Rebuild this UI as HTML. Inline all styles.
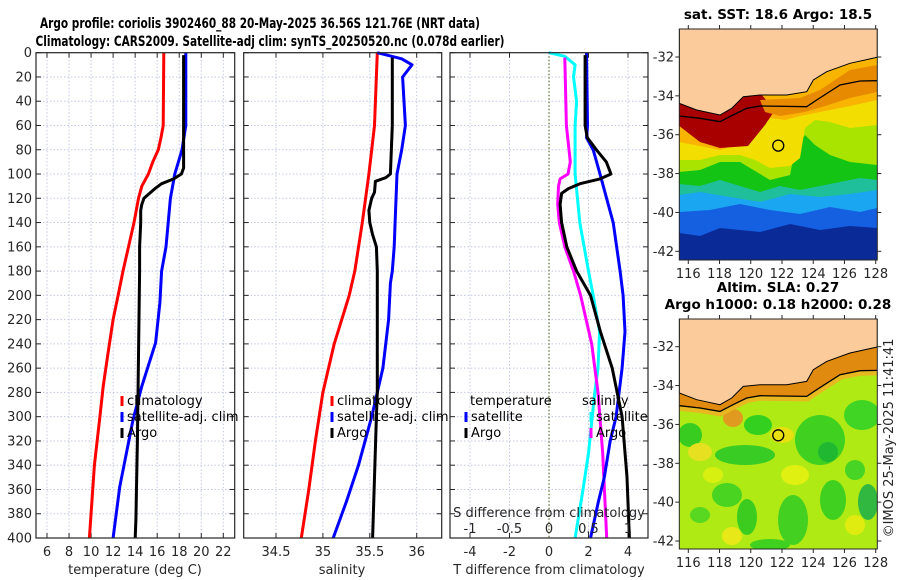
<!DOCTYPE html>
<html><head><meta charset="utf-8">
<style>
html,body{margin:0;padding:0;background:#fff;}
svg{display:block;font-family:"DejaVu Sans","Liberation Sans",sans-serif;}
.tk{font-size:13px;fill:#262626;}
.tt{font-size:13.5px;font-weight:bold;fill:#000;}
.tt2{font-size:14px;font-weight:bold;fill:#000;}
.lg{font-size:13px;fill:#000;}
</style></head>
<body>
<svg id="fig" width="900" height="580" viewBox="0 0 900 580" xmlns="http://www.w3.org/2000/svg">
<text class="tt2" x="260" y="28" text-anchor="middle" textLength="440" lengthAdjust="spacingAndGlyphs">Argo profile: coriolis 3902460_88 20-May-2025 36.56S 121.76E (NRT data)</text>
<text class="tt2" x="270" y="46" text-anchor="middle" textLength="469" lengthAdjust="spacingAndGlyphs">Climatology: CARS2009. Satellite-adj clim: synTS_20250520.nc (0.078d earlier)</text>
<g id="panels"></g>
<g id="maps"></g>
<text class="tk" transform="translate(893,438) rotate(-90)" text-anchor="middle">©IMOS 25-May-2025 11:41:41</text>
</svg>
<script>
// ---------- DATA ----------
const depthTicks = [0,20,40,60,80,100,120,140,160,180,200,220,240,260,280,300,320,340,360,380,400];
const tempTicks = [6,8,10,12,14,16,18,20,22];
const salTicks = [34.5,35,35.5,36];
const salTickLabels = ["34.5","35","35.5","36"];
const tdiffTicks = [-4,-2,0,2,4];
const sdiffTicks = [-1,-0.5,0,0.5,1];
const sdiffTickLabels = ["-1","-0.5","0","0.5","1"];

const climTDepth = [0,60,70,80,90,100,110,120,140,160,180,200,220,250,275,300,340,400];
const climTemp   = [16.6,16.55,16.35,16.1,15.6,15.2,14.6,14.3,13.9,13.4,12.9,12.45,12.0,11.5,11.1,10.8,10.3,9.85];
const satTDepth  = [0,60,80,100,120,140,160,180,206,239,275,303,358,400];
const satTemp    = [18.6,18.6,18.25,17.6,17.2,17.0,16.8,16.4,16.25,15.86,14.6,13.8,12.6,12.0];
const argoTDepth = [2,95,100,104,108,112,116,120,125,130,140,160,180,250,320,385,400];
const argoTemp   = [18.4,18.4,18.2,17.5,16.4,15.8,15.3,14.8,14.6,14.5,14.5,14.4,14.4,14.3,14.2,14.07,14.0];

const climSDepth = [0,60,80,100,140,180,200,240,280,320,360,400];
const climSal    = [35.58,35.55,35.52,35.49,35.42,35.34,35.28,35.12,35.0,34.92,34.85,34.77];
const satSDepth  = [0,5,10,20,60,80,100,140,160,180,190,220,260,300,340,370,400];
const satSal     = [35.58,35.84,35.95,35.85,35.88,35.84,35.79,35.77,35.76,35.74,35.72,35.70,35.64,35.52,35.38,35.25,35.11];
const argoSDepth = [4,60,100,103,106,115,120,130,140,150,160,180,280,300,400];
const argoSal    = [35.74,35.74,35.72,35.67,35.56,35.55,35.52,35.49,35.5,35.53,35.57,35.58,35.58,35.57,35.53];

const satTdDepth = [0,60,70,80,100,110,140,180,200,230,260,300,320,350,370,400];
const satTdiff   = [1.9,1.95,1.9,2.24,2.58,2.75,3.25,3.6,3.75,3.85,3.7,3.4,3.1,2.8,2.5,2.1];
const argoTdDepth= [2,60,70,80,90,100,104,108,112,116,125,140,160,180,200,230,260,300,350,400];
const argoTdiff  = [1.83,1.83,1.94,2.4,2.9,3.14,2.58,1.57,0.98,0.64,0.56,0.64,0.9,1.4,2.1,2.6,3.2,3.7,3.95,4.07];
const satSdDepth = [0,3,10,20,40,60,100,140,180,200,230,260,280,330,360,400];
const satSdiff   = [0,0.2,0.33,0.31,0.35,0.33,0.33,0.39,0.5,0.56,0.64,0.62,0.58,0.5,0.43,0.33];
const argoSdDepth= [4,60,90,100,104,110,125,140,160,180,200,240,280,330,400];
const argoSdiff  = [0.2,0.22,0.27,0.24,0.14,0.12,0.11,0.13,0.2,0.31,0.4,0.54,0.62,0.68,0.73];

const mapLonTicks = [116,118,120,122,124,126,128];
const mapLatTicks = [-32,-34,-36,-38,-40,-42];
const argoLon = 121.76, argoLat = -36.56;

// ---------- HELPERS ----------
const NS = "http://www.w3.org/2000/svg";
function mk(tag, attrs, parent){ const e=document.createElementNS(NS,tag); for(const k in attrs) e.setAttribute(k,attrs[k]); parent.appendChild(e); return e; }
const Y0=52.7, Y1=538; const yD = d => Y0 + d*(Y1-Y0)/400;
const panelsG = document.getElementById('panels');
const mapsG = document.getElementById('maps');

function linScale(v0,p0,v1,p1){ return v => p0 + (v-v0)*(p1-p0)/(v1-v0); }

function drawPanel(name, x0, x1, xs, gridVals, showDepthLabels){
  const g = mk('g',{},panelsG);
  
  
  mk('rect',{x:x0,y:Y0,width:x1-x0,height:Y1-Y0,fill:'#fff'},g);
  depthTicks.forEach(d=>{
    const gl = mk('line',{x1:x0,x2:x1,y1:yD(d),y2:yD(d),stroke:'#c4c8e4','stroke-width':1,'stroke-dasharray':'1.5,2'},g);
    
    
  });
  gridVals.forEach(v=>{
    const gl = mk('line',{x1:xs(v),x2:xs(v),y1:Y0,y2:Y1,stroke:'#c4c8e4','stroke-width':1,'stroke-dasharray':'1.5,2'},g);
    
    
  });
  depthTicks.forEach(d=>{
    mk('line',{x1:x0,x2:x0+5,y1:yD(d),y2:yD(d),stroke:'#262626'},g);
    mk('line',{x1:x1-5,x2:x1,y1:yD(d),y2:yD(d),stroke:'#262626'},g);
    if(showDepthLabels){
      const t = mk('text',{x:x0-4,y:yD(d)+4.5,'text-anchor':'end',class:'tk'},g);
      t.textContent = d;
      
      
    }
  });
  gridVals.forEach(v=>{
    mk('line',{x1:xs(v),x2:xs(v),y1:Y1,y2:Y1-5,stroke:'#262626'},g);
    mk('line',{x1:xs(v),x2:xs(v),y1:Y0,y2:Y0+5,stroke:'#262626'},g);
  });
  return g;
}
function frame(g,x0,x1){ mk('rect',{x:x0,y:Y0,width:x1-x0,height:Y1-Y0,fill:'none',stroke:'#262626','stroke-width':1.2},g); }
function series(g, depths, vals, xs, color, name){
  const pts = depths.map((d,i)=> xs(vals[i]).toFixed(1)+','+yD(d).toFixed(1)).join(' ');
  const p = mk('polyline',{points:pts,fill:'none',stroke:color,'stroke-width':3,'stroke-linejoin':'round'},g);
  
  
}
function label(g,x,y,txt,cls,name,anchor){
  const t = mk('text',{x:x,y:y,class:cls,'text-anchor':anchor||'start'},g);
  t.textContent = txt;
  
  
  return t;
}
function legendEntry(g,x,y,color,txt,name){
  mk('line',{x1:x,x2:x,y1:y-9,y2:y+1,stroke:color,'stroke-width':3},g);
  label(g,x+5,y,txt,'lg',name);
}

// ---------- PANEL 1: temperature ----------
const xT = linScale(6,47,22,223.3);
const g1 = drawPanel('temperature-panel',36,234.7,xT,tempTicks,true);
series(g1,climTDepth,climTemp,xT,'#ff0000','climatology-temperature-line');
series(g1,satTDepth,satTemp,xT,'#0000ff','satellite-temperature-line');
series(g1,argoTDepth,argoTemp,xT,'#000000','argo-temperature-line');
frame(g1,36,234.7);
tempTicks.forEach(v=> label(g1,xT(v),556,String(v),'tk','temperature-tick-label','middle'));
label(g1,135,574,'temperature (deg C)','tk','temperature-axis-title','middle');
legendEntry(g1,122,405,'#ff0000','climatology','legend-climatology');
legendEntry(g1,122,421,'#0000ff','satellite-adj. clim','legend-satellite-adj-clim');
legendEntry(g1,122,437,'#000000','Argo','legend-argo');

// ---------- PANEL 2: salinity ----------
const xS = linScale(34.5,276,36,416.7);
const g2 = drawPanel('salinity-panel',243.7,441.7,xS,salTicks,false);
series(g2,climSDepth,climSal,xS,'#ff0000','climatology-salinity-line');
series(g2,satSDepth,satSal,xS,'#0000ff','satellite-salinity-line');
series(g2,argoSDepth,argoSal,xS,'#000000','argo-salinity-line');
frame(g2,243.7,441.7);
salTicks.forEach((v,i)=> label(g2,xS(v),556,salTickLabels[i],'tk','salinity-tick-label','middle'));
label(g2,342,574,'salinity','tk','salinity-axis-title','middle');
legendEntry(g2,332,405,'#ff0000','climatology','legend-climatology');
legendEntry(g2,332,421,'#0000ff','satellite-adj. clim','legend-satellite-adj-clim');
legendEntry(g2,332,437,'#000000','Argo','legend-argo');

// ---------- PANEL 3: differences ----------
const xTd = linScale(-4,470,4,628);
const xSd = linScale(-1,470,1,628);
const g3 = drawPanel('difference-panel',450,648,xTd,tdiffTicks.filter(v=>v!==0),false);
const zl = mk('line',{x1:xTd(0),x2:xTd(0),y1:Y0,y2:Y1,stroke:'#556b2f','stroke-width':1.2,'stroke-dasharray':'1.5,2'},g3);


series(g3,satSdDepth,satSdiff,xSd,'#00ffff','satellite-salinity-diff-line');
series(g3,argoSdDepth,argoSdiff,xSd,'#ff00ff','argo-salinity-diff-line');
series(g3,satTdDepth,satTdiff,xTd,'#0000ff','satellite-temperature-diff-line');
series(g3,argoTdDepth,argoTdiff,xTd,'#000000','argo-temperature-diff-line');
frame(g3,450,648);
tdiffTicks.forEach(v=> label(g3,xTd(v),556,String(v),'tk','tdiff-tick-label','middle'));
label(g3,549,574,'T difference from climatology','tk','tdiff-axis-title','middle');
sdiffTicks.forEach((v,i)=> label(g3,xSd(v),533,sdiffTickLabels[i],'tk','sdiff-tick-label','middle'));
label(g3,549,517,'S difference from climatology','tk','sdiff-axis-title','middle');
label(g3,470,405,'temperature','lg','legend-temperature-header');
legendEntry(g3,466,421,'#0000ff','satellite','legend-temperature-satellite');
legendEntry(g3,466,437,'#000000','Argo','legend-temperature-argo');
label(g3,582,405,'salinity','lg','legend-salinity-header');
legendEntry(g3,591,421,'#00ffff','satellite','legend-salinity-satellite');
legendEntry(g3,591,437,'#ff00ff','Argo','legend-salinity-argo');

// ---------- MAPS ----------
const MX0=679.3, MX1=877.3;
const lonX = linScale(116,688.3,128,875.7);
const coast = [[679.3,103.3],[696.7,110],[720,115],[731.7,108.3],[743.3,96.7],[760,95],[786.7,95],[806.7,91.7],[813.3,80],[826.7,71.7],[850,63.3],[877.3,57.3]];
const contour = [[679.3,116],[700,118.3],[720,121.7],[733,115],[746.7,108.3],[760,106],[806.7,106.7],[816.7,100],[840,85],[860,81],[877.3,80.7]];
function pstr(arr,dy){ return arr.map(p=>p[0]+','+(p[1]+dy).toFixed(1)).join(' '); }
// edge listed right-to-left
function bandTop(edge,yTop,dy){ return 'M'+MX0+','+(yTop)+' L'+MX1+','+yTop+' '+edge.map(p=>'L'+p[0]+','+(p[1]+dy)).join(' ')+' Z'; }

function drawMap(name, yTop, yBot, dy, title1, title2, fillFn){
  const g = mk('g',{},mapsG);
  
  
  const latY = linScale(-32,57+dy,-42,251.3+dy);
  const clipId = name+'-clip';
  const cp = mk('clipPath',{id:clipId},g);
  mk('rect',{x:MX0,y:yTop,width:MX1-MX0,height:yBot-yTop},cp);
  const inner = mk('g',{'clip-path':'url(#'+clipId+')'},g);
  fillFn(inner, dy);
  const land = mk('polygon',{points:MX0+','+yTop+' '+MX1+','+yTop+' '+pstr(coast.slice().reverse(),dy),fill:'#fccb9c',stroke:'#000','stroke-width':1},inner);
  
  
  const cl = mk('polyline',{points:pstr(contour,dy),fill:'none',stroke:'#000','stroke-width':1.3},inner);
  
  
  const c = mk('circle',{cx:lonX(argoLon),cy:latY(argoLat),r:5.5,fill:'none',stroke:'#000','stroke-width':1.3},g);
  
  
  mk('rect',{x:MX0,y:yTop,width:MX1-MX0,height:yBot-yTop,fill:'none',stroke:'#262626','stroke-width':1},g);
  mapLonTicks.forEach(v=>{
    mk('line',{x1:lonX(v),x2:lonX(v),y1:yTop,y2:yTop-4,stroke:'#262626'},g);
    mk('line',{x1:lonX(v),x2:lonX(v),y1:yBot,y2:yBot+4,stroke:'#262626'},g);
    label(g,lonX(v),yBot+18,String(v),'tk','map-lon-tick-label','middle');
  });
  mapLatTicks.forEach(v=>{
    mk('line',{x1:MX0,x2:MX0-4,y1:latY(v),y2:latY(v),stroke:'#262626'},g);
    mk('line',{x1:MX1,x2:MX1+4,y1:latY(v),y2:latY(v),stroke:'#262626'},g);
    label(g,674,latY(v)+4.5,String(v),'tk','map-lat-tick-label','end');
  });
  if(title2){
    label(g,778,yTop-27,title1,'tt','map-title','middle');
    label(g,778,yTop-10,title2,'tt','map-subtitle','middle');
  } else {
    label(g,778,yTop-10,title1,'tt','map-title','middle');
  }
}

function sstFill(g,dy){
  mk('rect',{x:MX0,y:29,width:200,height:232,fill:'#0a2a98'},g);
  const bands = [
    ['#1560e0',[[877.3,228],[850,226],[820,230],[790,224],[760,232],[720,228],[700,236],[679.3,233]]],
    ['#1aa6f0',[[877.3,208],[860,212],[830,207],[800,214],[770,210],[740,204],[710,210],[679.3,212]]],
    ['#1fbf9c',[[877.3,190],[850,194],[820,197],[790,194],[760,202],[730,197],[700,192],[679.3,195]]],
    ['#14c414',[[877.3,180],[860,178],[840,182],[820,186],[800,190],[780,186],[760,192],[740,186],[720,180],[700,186],[679.3,184]]],
    ['#a8e400',[[877.3,165],[850,162],[830,155],[815,145],[805,135],[795,150],[790,175],[770,180],[750,168],[740,162],[720,162],[700,170],[679.3,172]]],
    ['#f2de00',[[877.3,125],[850,128],[830,122],[815,120],[805,128],[800,158],[790,166],[770,168],[755,160],[740,155],[720,155],[700,160],[679.3,160]]],
    ['#f8b400',[[877.3,100],[850,106],[820,112],[800,116],[785,120],[770,118],[760,126],[745,142],[720,150],[700,146],[679.3,142]]]
  ];
  bands.forEach(b=>{ mk('path',{d:bandTop(b[1],29,0),fill:b[0]},g); });
  mk('polygon',{points:'679.3,100 760,93 775,110 765,125 748,146 720,148 700,142 679.3,126',fill:'#a80000'},g);
  mk('polygon',{points:'760,100 800,98 820,90 850,70 877.3,65 877.3,92 850,98 825,106 805,112 780,116 765,112',fill:'#e88a00'},g);
  mk('polygon',{points:'679.3,40 684,42 685,60 683,88 679.3,90',fill:'#a80000'},g);
}
function slaFill(g,dy){
  mk('rect',{x:MX0,y:319,width:200,height:232,fill:'#b0ea14'},g);
  const greens = [[690,435,12,12,'#38cc20'],[758,425,14,10,'#34d020'],[820,440,25,25,'#40d020'],[828,452,10,10,'#20b830'],[862,415,18,15,'#40d424'],[745,455,30,10,'#38cc24'],[727,495,15,12,'#48d420'],[793,520,15,25,'#44d020'],[747,517,10,18,'#3ccc20'],[833,500,13,20,'#40d020'],[868,502,10,18,'#30b840'],[855,470,10,10,'#48d424'],[700,515,10,8,'#58d820'],[770,545,20,6,'#40d020']];
  const yellows = [[700,452,12,9,'#e6e020'],[732,536,10,9,'#e8e818'],[795,475,14,10,'#e0f010'],[855,525,10,10,'#e0ec10'],[782,435,12,8,'#e8e010'],[713,475,10,8,'#d8f010']];
  greens.forEach(c=> mk('ellipse',{cx:c[0],cy:c[1],rx:c[2],ry:c[3],fill:c[4]},g));
  yellows.forEach(c=> mk('ellipse',{cx:c[0],cy:c[1],rx:c[2],ry:c[3],fill:c[4]},g));
  mk('ellipse',{cx:733,cy:418,rx:10,ry:9,fill:'#e09a20'},g);
  mk('polyline',{points:pstr(contour,dy),fill:'none',stroke:'#e8b820','stroke-width':10},g);
  mk('polygon',{points:pstr(coast,dy)+' '+pstr(contour.slice().reverse(),dy),fill:'#e08a10'},g);
}

drawMap('sst-map',29,260,0,'sat. SST: 18.6 Argo: 18.5',null,sstFill);
drawMap('sla-map',319,549,289.7,'Altim. SLA: 0.27','Argo h1000: 0.18 h2000: 0.28',slaFill);
</script>
</body></html>
